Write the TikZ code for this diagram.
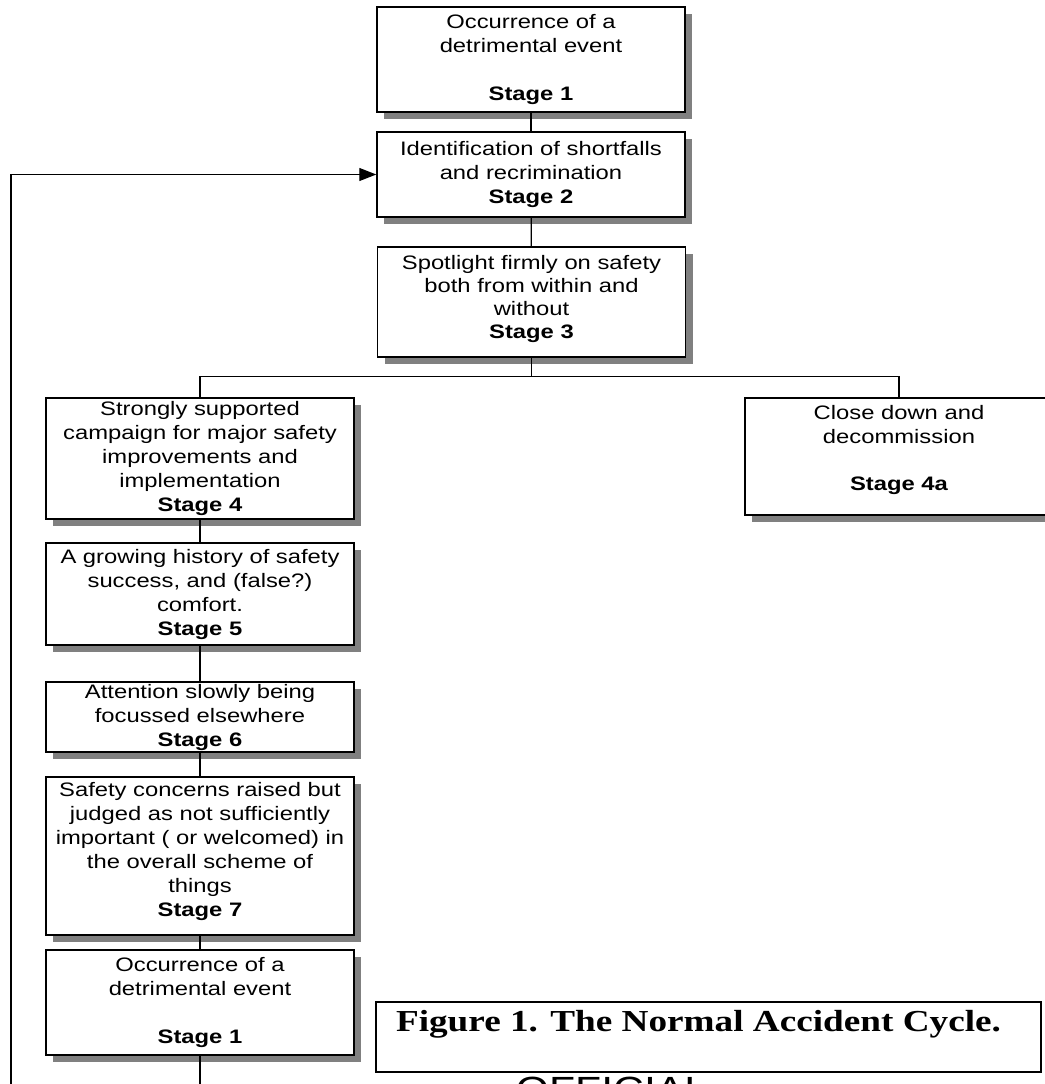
\documentclass[tikz,border=0pt]{standalone}
\usepackage{fontspec}
\setmainfont{Liberation Sans}[FakeStretch=1.22]
\newfontfamily\capfont{Liberation Serif}[FakeStretch=1.22]
\usetikzlibrary{arrows.meta,shadows,positioning}
\newcommand{\dropby}[1]{\rule[-#1]{0pt}{#1}}

\begin{document}
\begin{tikzpicture}[x=1pt,y=-1pt]
\tikzset{stagebox/.style={draw,line width=1.5pt,fill=white,align=center,inner sep=0pt,minimum width=308pt,font=\fontsize{19.5}{24}\selectfont,drop shadow={shadow xshift=7pt,shadow yshift=-7pt,fill=black!50,opacity=1}},link/.style={line width=1.3pt}}
\useasboundingbox (0,0) rectangle (1044,1084);

\node[stagebox,minimum height=105pt] (occur) at (531,59.5) {Occurrence of a\\detrimental event\\[24pt]\textbf{Stage 1}\dropby{3pt}};
\node[stagebox,minimum height=85pt] (ident) at (531,174.5) {Identification of shortfalls\\and recrimination\\\textbf{Stage 2}\dropby{4pt}};
\node[stagebox,minimum height=110pt,font=\fontsize{19.5}{23}\selectfont] (spot) at (531.5,302) {Spotlight firmly on safety\\both from within and\\without\\\textbf{Stage 3}\dropby{11pt}};
\node[stagebox,minimum height=121pt] (campaign) at (200,458.5) {Strongly supported\\campaign for major safety\\improvements and\\implementation\\\textbf{Stage 4}};
\node[stagebox,minimum height=117pt,font=\fontsize{19.5}{23.5}\selectfont] (close) at (899,456.5) {Close down and\\decommission\\[23.5pt]\textbf{Stage 4a}\dropby{17pt}};
\node[stagebox,minimum height=102pt] (history) at (200,594) {A growing history of safety\\success, and (false?)\\comfort.\\\textbf{Stage 5}};
\node[stagebox,minimum height=70pt] (attn) at (200,717) {Attention slowly being\\focussed elsewhere\\\textbf{Stage 6}};
\node[stagebox,minimum height=158pt] (concern) at (200,856) {Safety concerns raised but\\judged as not sufficiently\\important ( or welcomed) in\\the overall scheme of\\things\\\textbf{Stage 7}\dropby{14pt}};
\node[stagebox,minimum height=105pt] (again) at (200,1002.5) {Occurrence of a\\detrimental event\\[24pt]\textbf{Stage 1}\dropby{5pt}};

\node[draw,line width=1.3pt,minimum width=665pt,minimum height=70pt,inner sep=0pt] (figbox) at (708.5,1037) {};
\node[below=9pt of figbox.north,xshift=-10pt,inner sep=0pt,font=\capfont\bfseries\fontsize{30.5}{36}\selectfont] (figcap) {Figure 1. The Normal Accident Cycle.};
\node[anchor=north,inner sep=0pt,font=\fontsize{35}{40}\selectfont] (official) at (612,1077) {OFFICIAL};

\coordinate (loop) at (11,1120);
\draw[link] (occur) -- (ident);
\draw[link] (ident) -- (spot);
\draw[link] (spot.south) -- ++(0,19) -| (campaign.north);
\draw[link] (spot.south) -- ++(0,19) -| (close.north);
\draw[link] (campaign) -- (history);
\draw[link] (history) -- (attn);
\draw[link] (attn) -- (concern);
\draw[link] (concern) -- (again);
\draw[link,-{Triangle[length=17pt,width=13pt]}] (again.south) |- (loop) |- (ident.west);
\end{tikzpicture}
\end{document}
